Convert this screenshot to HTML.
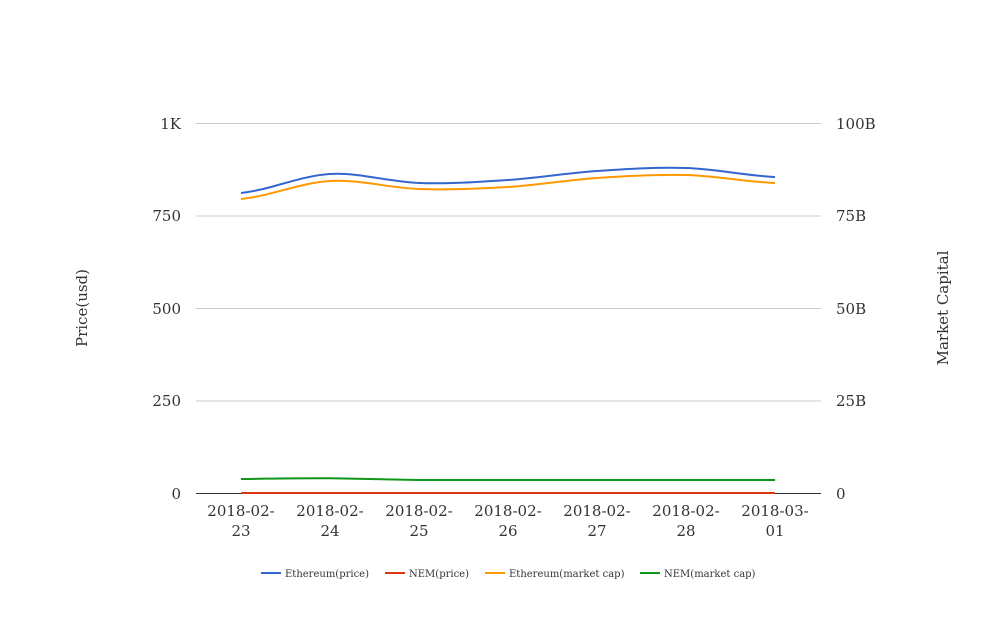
<!DOCTYPE html>
<html><head><meta charset="utf-8"><style>
html,body{margin:0;padding:0;background:#fff;}
svg text{font-family:"DejaVu Serif","Liberation Serif",serif;fill:#333;}
</style></head><body>
<svg width="1008" height="616" viewBox="0 0 1008 616" xmlns="http://www.w3.org/2000/svg">
<rect width="1008" height="616" fill="#fff"/>
<g stroke="#ccc" stroke-width="1">
<line x1="196" y1="123.5" x2="821" y2="123.5"/>
<line x1="196" y1="216" x2="821" y2="216"/>
<line x1="196" y1="308.5" x2="821" y2="308.5"/>
<line x1="196" y1="401" x2="821" y2="401"/>
</g>
<line x1="196" y1="493.5" x2="821" y2="493.5" stroke="#333" stroke-width="1"/>
<g font-size="15" text-anchor="end">
<text x="181" y="129">1K</text>
<text x="181" y="221">750</text>
<text x="181" y="314">500</text>
<text x="181" y="406">250</text>
<text x="181" y="499">0</text>
</g>
<g font-size="15" text-anchor="start">
<text x="836" y="129">100B</text>
<text x="836" y="221">75B</text>
<text x="836" y="314">50B</text>
<text x="836" y="406">25B</text>
<text x="836" y="499">0</text>
</g>
<g font-size="15" text-anchor="middle">
<text x="241" y="516">2018-02-</text><text x="241" y="536">23</text>
<text x="330" y="516">2018-02-</text><text x="330" y="536">24</text>
<text x="419" y="516">2018-02-</text><text x="419" y="536">25</text>
<text x="508" y="516">2018-02-</text><text x="508" y="536">26</text>
<text x="597" y="516">2018-02-</text><text x="597" y="536">27</text>
<text x="686" y="516">2018-02-</text><text x="686" y="536">28</text>
<text x="775" y="516">2018-03-</text><text x="775" y="536">01</text>
</g>
<text font-size="15" text-anchor="middle" transform="translate(87,308) rotate(-90)">Price(usd)</text>
<text font-size="15" text-anchor="middle" transform="translate(948,308) rotate(-90)">Market Capital</text>
<g fill="none" stroke-width="2">
<path stroke="#3366cc" d="M241,193 C270.7,189.8 300.3,175.7 330,174 C359.7,172.3 389.3,182 419,183 C448.7,184 478.3,182 508,180 C537.7,178 567.3,173 597,171 C626.7,169 656.3,167 686,168 C715.7,169 745.3,175.5 775,177"/>
<path stroke="#ff9900" d="M241,199 C270.7,196 300.3,182.7 330,181 C359.7,179.3 389.3,188 419,189 C448.7,190 478.3,188.8 508,187 C537.7,185.2 567.3,180 597,178 C626.7,176 656.3,174.2 686,175 C715.7,175.8 745.3,181.7 775,183"/>
<path stroke="#109618" d="M241,479 C270,478.7 300,478 330,478.3 C360,478.6 390,479.7 419,480 L775,480"/>
<path stroke="#dc3912" d="M241,493 L775,493"/>
</g>
<g font-size="10">
<line x1="261" y1="573" x2="281" y2="573" stroke="#3366cc" stroke-width="2"/>
<text x="285" y="577">Ethereum(price)</text>
<line x1="385" y1="573" x2="405" y2="573" stroke="#dc3912" stroke-width="2"/>
<text x="409" y="577">NEM(price)</text>
<line x1="485" y1="573" x2="505" y2="573" stroke="#ff9900" stroke-width="2"/>
<text x="509" y="577">Ethereum(market cap)</text>
<line x1="640" y1="573" x2="660" y2="573" stroke="#109618" stroke-width="2"/>
<text x="664" y="577">NEM(market cap)</text>
</g>
</svg>
</body></html>
